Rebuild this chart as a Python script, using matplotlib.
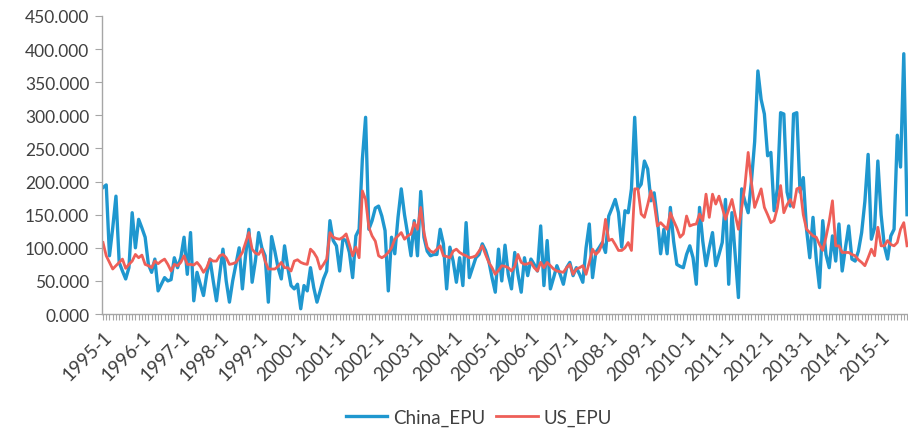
import numpy as np
import matplotlib
matplotlib.use('Agg')
import matplotlib.pyplot as plt
from matplotlib.ticker import MultipleLocator, FixedLocator, FuncFormatter

start_year = 1995

# monthly values, 1995-1 onwards (one row per year)
china_epu = [
    191, 195, 88, 130, 178, 78, 65, 53, 70, 153, 100, 143,
    130, 116, 75, 63, 83, 35, 45, 55, 50, 52, 85, 70,
    85, 116, 60, 123, 20, 63, 45, 28, 60, 83, 50, 20,
    60, 98, 50, 18, 50, 75, 100, 38, 90, 128, 48, 80,
    123, 100, 88, 18, 117, 95, 70, 53, 103, 70, 43, 38,
    45, 8, 43, 35, 70, 40, 18, 35, 53, 65, 141, 111,
    103, 65, 113, 111, 93, 55, 118, 128, 234, 297, 128, 141,
    160, 163, 148, 126, 35, 116, 91, 146, 189, 150, 120, 88,
    141, 88, 185, 116, 95, 88, 90, 90, 128, 106, 38, 101,
    80, 48, 85, 43, 138, 55, 70, 85, 90, 106, 96, 80,
    55, 33, 98, 50, 104, 60, 38, 93, 60, 33, 85, 58,
    83, 75, 65, 133, 43, 111, 38, 55, 73, 60, 45, 70,
    78, 58, 70, 60, 48, 100, 136, 55, 93, 100, 108, 93,
    148, 160, 173, 153, 101, 156, 153, 189, 297, 189, 196, 231,
    219, 171, 183, 143, 91, 128, 91, 161, 110, 75, 72, 70,
    90, 103, 85, 45, 161, 110, 73, 100, 123, 73, 90, 108,
    173, 45, 153, 90, 25, 189, 170, 153, 200, 260, 367, 324,
    302, 239, 244, 156, 189, 304, 302, 184, 163, 302, 304, 184,
    206, 128, 85, 146, 83, 40, 141, 90, 70, 118, 80, 136,
    65, 100, 133, 83, 80, 95, 123, 170, 241, 113, 130, 231,
    150, 103, 83, 118, 128, 270, 222, 393, 150,
]

us_epu = [
    108, 88, 78, 68, 73, 78, 83, 69, 75, 80, 90, 85,
    89, 75, 73, 70, 80, 76, 80, 83, 75, 65, 75, 73,
    78, 88, 75, 75, 74, 78, 72, 63, 70, 83, 80, 80,
    88, 90, 85, 75, 76, 78, 85, 93, 108, 123, 98, 92,
    90, 98, 80, 68, 68, 68, 72, 78, 70, 70, 65, 80,
    82, 78, 76, 75, 98, 93, 85, 68, 75, 83, 123, 116,
    114, 113, 116, 121, 105, 88, 101, 85, 186, 173, 131, 118,
    110, 88, 85, 88, 93, 100, 113, 118, 123, 113, 118, 121,
    138, 128, 161, 123, 101, 95, 93, 98, 103, 88, 87, 85,
    95, 98, 93, 90, 88, 85, 86, 88, 95, 103, 90, 78,
    70, 60, 66, 73, 72, 70, 65, 72, 90, 78, 75, 76,
    78, 70, 65, 78, 70, 78, 73, 68, 65, 64, 63, 70,
    75, 60, 68, 70, 73, 60, 78, 98, 90, 95, 106, 143,
    111, 113, 105, 96, 96, 100, 108, 96, 189, 189, 151, 146,
    165, 186, 168, 133, 138, 133, 128, 153, 141, 130, 116, 121,
    148, 133, 135, 136, 151, 141, 181, 146, 181, 166, 178, 161,
    143, 158, 173, 150, 128, 160, 194, 244, 199, 161, 175, 189,
    161, 150, 138, 141, 160, 194, 153, 165, 173, 161, 189, 191,
    150, 128, 123, 118, 116, 105, 96, 116, 140, 171, 103, 103,
    93, 93, 93, 90, 88, 82, 78, 73, 85, 98, 88, 131,
    103, 103, 111, 105, 103, 108, 128, 138, 103,
]

n = len(china_epu)
x = np.arange(n)
year_labels = ['%d-1' % y for y in range(start_year, start_year + (n - 1) // 12 + 1)]

plt.rcParams['font.family'] = ['Lato', 'DejaVu Sans']
txt = '#404040'
axis_gray = '#a6a6a6'

fig = plt.figure(figsize=(9.08, 4.31), dpi=100)
ax = fig.add_axes([0.112, 0.269, 0.888, 0.6916])

l1, = ax.plot(x, china_epu, color='#1f97cf', lw=2.4, solid_joinstyle='round', label='China_EPU')
l2, = ax.plot(x, us_epu, color='#ee5f58', lw=2.0, solid_joinstyle='round', label='US_EPU')

ax.set_ylim(0, 450)
ax.set_xlim(-0.4, n - 0.7)
ax.yaxis.set_major_locator(MultipleLocator(50))
ax.yaxis.set_major_formatter(FuncFormatter(lambda v, p: '%.3f' % v))

ax.xaxis.set_major_locator(FixedLocator(np.arange(0, n, 12)))
ax.xaxis.set_minor_locator(MultipleLocator(1))
ax.set_xticklabels(year_labels, rotation=45, ha='right', rotation_mode='anchor')

for s in ['top', 'right']:
    ax.spines[s].set_visible(False)
for s in ['left', 'bottom']:
    ax.spines[s].set_color(axis_gray)
    ax.spines[s].set_linewidth(1.0)

ax.tick_params(axis='y', which='major', length=5, color=axis_gray, labelsize=12.5, labelcolor=txt, pad=4)
ax.tick_params(axis='x', which='both', length=4, color=axis_gray, width=0.8, labelsize=13.5, labelcolor=txt, pad=6)

fig.legend(handles=[l1, l2], loc='center', bbox_to_anchor=(0.5275, 0.03), ncol=2, frameon=False,
           fontsize=13.5, labelcolor=txt, handlelength=2.2, columnspacing=0.6, handletextpad=0.3)

fig.savefig('out.png', dpi=100)
